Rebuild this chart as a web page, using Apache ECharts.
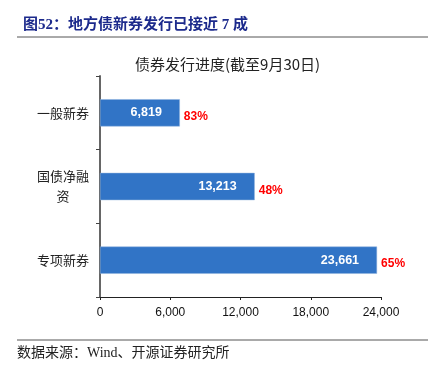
<!DOCTYPE html>
<html><head><meta charset="utf-8">
<script src="https://cdn.jsdelivr.net/npm/echarts@6/dist/echarts.min.js"></script>
<style>html,body{margin:0;padding:0;background:#fff}#c{width:432px;height:370px}</style>
</head><body><div id="c"></div>
<script>
var categories = ['一般新券', '国债净融\n资', '专项新券'];
var issued = [6819, 13213, 23661];
var progress = ['83%', '48%', '65%'];
var xTicks = [0, 6000, 12000, 18000, 24000];

var chart = echarts.init(document.getElementById('c'));
var fmt = function (v) { return Number(v).toLocaleString('en-US'); };
chart.setOption({
  animation: false,
  title: [{
    text: '图52：地方债新券发行已接近 7 成', left: 18, top: 13,
    textStyle: { color: '#1c2a8c', fontSize: 15, fontWeight: 'bold', fontFamily: 'Liberation Serif, Noto Sans CJK SC' }
  }, {
    text: '债券发行进度(截至9月30日)', left: 130, top: 52,
    textStyle: { color: '#222', fontSize: 15, fontWeight: 'normal', fontFamily: 'Noto Sans CJK SC' }
  }],
  graphic: [
    { type: 'line', shape: { x1: 17, y1: 37, x2: 428, y2: 37 }, style: { stroke: '#555', lineWidth: 1 } },
    { type: 'line', shape: { x1: 17, y1: 340, x2: 428, y2: 340 }, style: { stroke: '#555', lineWidth: 1 } },
    { type: 'text', left: 17, top: 346, style: { text: '数据来源：Wind、开源证券研究所', fill: '#222', font: '14px "Liberation Serif", "Noto Sans CJK SC"' } }
  ],
  grid: { left: 100, right: 51, top: 76, bottom: 73 },
  xAxis: {
    type: 'value', min: xTicks[0], max: xTicks[xTicks.length - 1], interval: 6000,
    splitLine: { show: false },
    axisLine: { show: true, lineStyle: { color: '#222', width: 1 } },
    axisTick: { show: true, length: 3, lineStyle: { color: '#222' } },
    axisLabel: { color: '#111', fontSize: 12, fontFamily: 'Liberation Sans, Arial', margin: 10, formatter: fmt }
  },
  yAxis: {
    type: 'category', data: categories, inverse: true,
    axisLine: { show: true, lineStyle: { color: '#666', width: 2 } },
    axisTick: { show: true, length: 4, lineStyle: { color: '#444' } },
    axisLabel: { color: '#222', fontSize: 13, fontFamily: 'Noto Sans CJK SC', align: 'center', margin: 37, lineHeight: 20 }
  },
  series: [{
    type: 'bar', data: issued, barCategoryGap: '63%',
    itemStyle: { color: '#3174c6', borderColor: '#8fb0dc', borderWidth: 0.5 },
    label: { show: true, position: 'insideRight', distance: 18, color: '#fff', fontWeight: 'bold', fontSize: 12.5, fontFamily: 'Liberation Sans, Arial', formatter: function (p) { return fmt(p.value); } }
  }, {
    type: 'bar', data: issued, barGap: '-100%', barCategoryGap: '63%',
    itemStyle: { color: 'rgba(0,0,0,0)' },
    label: { show: true, position: 'right', distance: 4, offset: [0, 4], color: '#ff0000', fontWeight: 'bold', fontSize: 12, fontFamily: 'Liberation Sans, Arial', formatter: function (p) { return progress[p.dataIndex]; } }
  }]
});
</script></body></html>
